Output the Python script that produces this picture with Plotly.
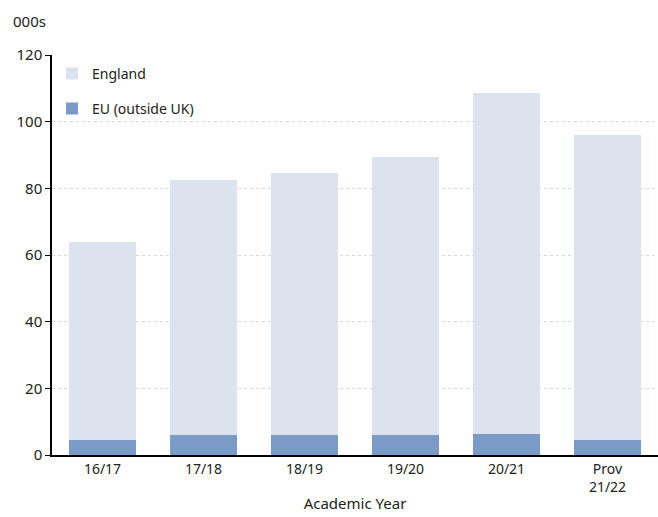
import plotly.graph_objects as go

years = ["16/17", "17/18", "18/19", "19/20", "20/21", "Prov<br>21/22"]
eu_outside_uk = [4.4, 6.0, 6.0, 6.0, 6.3, 4.4]
england = [59.6, 76.5, 78.5, 83.4, 102.3, 91.5]
y_ticks = [0, 20, 40, 60, 80, 100, 120]

FONT = "Noto Sans"

fig = go.Figure()
fig.add_trace(go.Bar(
    x=years, y=eu_outside_uk, name="EU (outside UK)",
    marker=dict(color="#7a9bc8", line=dict(width=0)),
    legendgroup="eu", legendrank=2,
))
fig.add_trace(go.Bar(
    x=years, y=england, name="England",
    marker=dict(color="#dce3ef", line=dict(width=0)),
    legendgroup="eng", legendrank=1,
))

fig.update_layout(
    width=658, height=517,
    barmode="stack", bargap=0.34,
    plot_bgcolor="white", paper_bgcolor="white",
    margin=dict(l=52, r=0, t=55, b=62),
    font=dict(family=FONT, size=14, color="#222222"),
    legend=dict(
        x=0.0, y=0.993, xanchor="left", yanchor="top",
        traceorder="grouped", tracegroupgap=14,
        bgcolor="rgba(0,0,0,0)", font=dict(size=14),
        itemwidth=30,
    ),
    xaxis=dict(
        showline=True, linecolor="black", linewidth=1.5,
        ticks="", showgrid=False,
        title=dict(text="Academic Year", standoff=4, font=dict(size=15)),
        tickfont=dict(size=14),
    ),
    yaxis=dict(
        range=[0, 120], tickvals=y_ticks,
        showline=True, linecolor="black", linewidth=1.5,
        ticks="outside", ticklen=5, tickcolor="black",
        showgrid=True, gridcolor="#d9d9d9", griddash="dot",
        zeroline=False, tickfont=dict(size=15),
    ),
    annotations=[dict(
        text="000s", xref="paper", yref="paper", x=-0.068, y=1.055,
        xanchor="left", yanchor="bottom", showarrow=False,
        font=dict(size=15),
    )],
)

fig.write_html("out.html")
